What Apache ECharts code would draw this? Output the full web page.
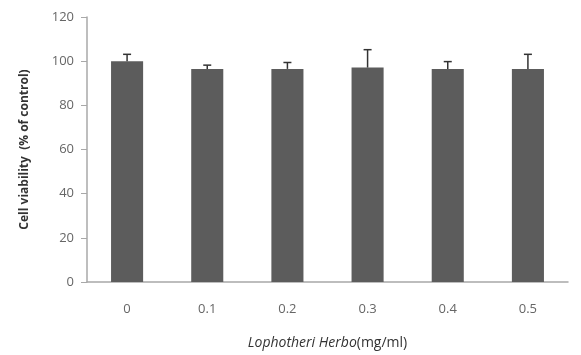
<!DOCTYPE html>
<html>
<head>
<meta charset="utf-8">
<script src="https://cdn.jsdelivr.net/npm/echarts@6/dist/echarts.min.js"></script>
<style>
  html, body { margin: 0; padding: 0; background: #fff; }
  #chart { width: 581px; height: 355px; }
</style>
</head>
<body>
<div id="chart"></div>
<script>
// concentrations (mg/ml)
var categories = ['0', '0.1', '0.2', '0.3', '0.4', '0.5'];
// cell viability, % of control
var viability = [100, 96.5, 96.5, 97.1, 96.5, 96.5];
// upper error (SD)
var errUp = [3.1, 1.7, 2.9, 8.1, 3.3, 6.6];

var chart = echarts.init(document.getElementById('chart'));

var errData = viability.map(function (v, i) { return [i, v, v + errUp[i]]; });

chart.setOption({
  animation: false,
  grid: { left: 87, right: 13, top: 17, bottom: 69 },
  xAxis: {
    type: 'category',
    data: categories,
    axisLine: { lineStyle: { color: '#a8a8a8', width: 1.5 } },
    axisTick: { show: false },
    axisLabel: { color: '#666', fontSize: 13, margin: 21, fontFamily: 'Open Sans' },
    name: '{i|Lophotheri Herbo}{n|(mg/ml)}',
    nameLocation: 'middle',
    nameGap: 54,
    nameTextStyle: {
      rich: {
        i: { fontStyle: 'italic', fontSize: 14, color: '#333', fontFamily: 'Open Sans' },
        n: { fontSize: 14, color: '#333', fontFamily: 'Open Sans' }
      }
    }
  },
  yAxis: {
    type: 'value',
    min: 0,
    max: 120,
    interval: 20,
    splitLine: { show: false },
    axisLine: { show: true, lineStyle: { color: '#a8a8a8', width: 1.5 } },
    axisTick: { show: true, inside: false, length: 6, lineStyle: { color: '#a8a8a8' } },
    axisLabel: { color: '#666', fontSize: 13, margin: 13, fontFamily: 'Open Sans' },
    name: 'Cell viability  (% of control)',
    nameLocation: 'middle',
    nameGap: 56,
    nameTextStyle: { fontWeight: 'bold', fontSize: 12, color: '#333', fontFamily: 'Open Sans' }
  },
  series: [
    {
      type: 'bar',
      data: viability,
      barWidth: '40%',
      itemStyle: { color: '#5c5c5c' }
    },
    {
      type: 'custom',
      data: errData,
      z: 3,
      renderItem: function (params, api) {
        var x = api.value(0);
        var lo = api.coord([x, api.value(1)]);
        var hi = api.coord([x, api.value(2)]);
        var cap = 4;
        var style = { stroke: '#333', lineWidth: 1.5 };
        return {
          type: 'group',
          children: [
            { type: 'line', shape: { x1: lo[0], y1: lo[1], x2: hi[0], y2: hi[1] }, style: style },
            { type: 'line', shape: { x1: hi[0] - cap, y1: hi[1], x2: hi[0] + cap, y2: hi[1] }, style: style }
          ]
        };
      }
    }
  ]
});
</script>
</body>
</html>
